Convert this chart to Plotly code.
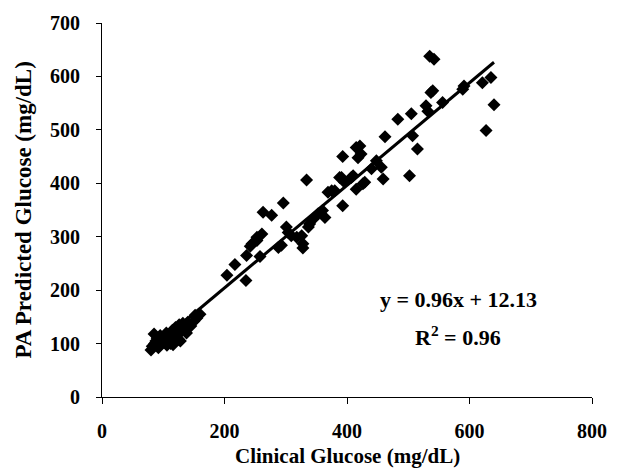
import plotly.graph_objects as go
import numpy as np

clinical = [80, 82, 85, 86, 88, 90, 92, 95, 96, 98, 100, 102, 105, 106, 108, 110, 112, 115, 116, 118,
            120, 122, 125, 126, 128, 130, 132, 135, 138, 140, 145, 150, 155, 160, 112, 118, 125,
            152, 204, 217, 235, 236, 242, 245, 253, 253, 258, 261, 263, 277, 288, 293, 296, 301, 304,
            309, 318, 326, 328, 328, 334, 337, 339, 345, 353, 360, 364, 369, 375, 380, 388, 391, 393,
            393, 396, 407, 410, 415, 415, 418, 421, 423, 426, 429, 440, 448, 456, 459, 462, 483, 502,
            505, 507, 515, 529, 532, 537, 540, 556, 535, 542, 589, 591, 621, 635, 627, 640]
predicted = [88, 95, 118, 100, 105, 110, 92, 115, 100, 108, 103, 112, 120, 97, 110, 105, 115, 125, 98, 108,
             130, 112, 118, 135, 105, 125, 138, 128, 120, 140, 133, 142, 148, 155, 100, 118, 108,
             153, 228, 248, 218, 265, 282, 287, 293, 299, 263, 305, 346, 340, 280, 284, 363, 318, 308,
             302, 299, 302, 287, 279, 406, 318, 324, 333, 343, 349, 336, 383, 386, 386, 411, 411, 358,
             450, 402, 411, 414, 389, 467, 448, 470, 455, 399, 402, 427, 442, 430, 408, 487, 520, 414,
             530, 489, 464, 545, 535, 570, 573, 551, 638, 632, 576, 582, 588, 598, 499, 547]

slope, intercept = 0.96, 12.13
x_tick_vals = [0, 200, 400, 600, 800]
y_tick_vals = [0, 100, 200, 300, 400, 500, 600, 700]

FONT = "Liberation Serif, Times New Roman, serif"

xl = np.array([min(clinical), max(clinical)])
yl = slope * xl + intercept

fig = go.Figure()
fig.add_trace(go.Scatter(x=xl, y=yl, mode="lines", line=dict(color="black", width=3), showlegend=False))
fig.add_trace(go.Scatter(x=clinical, y=predicted, mode="markers",
                         marker=dict(symbol="diamond", color="black", size=10, line=dict(width=0)),
                         showlegend=False))

fig.update_layout(
    width=619, height=470,
    margin=dict(l=102, r=23, t=22, b=73),
    plot_bgcolor="white", paper_bgcolor="white",
    font=dict(family=FONT, color="black", size=20),
    xaxis=dict(range=[0, 800], tickvals=x_tick_vals, showline=True, linecolor="black", linewidth=1,
               ticks="outside", ticklen=6, tickcolor="black", showgrid=False, zeroline=False,
               tickfont=dict(family=FONT, size=20, weight="bold"), ticklabelstandoff=10),
    yaxis=dict(range=[0, 700], tickvals=y_tick_vals, showline=True, linecolor="black", linewidth=1,
               ticks="outside", ticklen=5, tickcolor="black", showgrid=False, zeroline=False,
               tickfont=dict(family=FONT, size=20, weight="bold"), ticklabelstandoff=12),
    annotations=[
        dict(x=582, y=183, xref="x", yref="y", text="<b>y = 0.96x + 12.13</b>", showarrow=False,
             font=dict(family=FONT, size=22)),
        dict(x=582, y=114, xref="x", yref="y", text="<b>R<sup>2</sup> = 0.96</b>", showarrow=False,
             font=dict(family=FONT, size=22)),
        dict(x=0.5, y=-0.158, xref="paper", yref="paper", text="<b>Clinical Glucose (mg/dL)</b>",
             showarrow=False, font=dict(family=FONT, size=21), yanchor="middle"),
        dict(x=-0.162, y=0.5, xref="paper", yref="paper", text="<b>PA Predicted Glucose (mg/dL)</b>",
             showarrow=False, textangle=-90, font=dict(family=FONT, size=23), xanchor="center"),
    ],
)

fig.write_html("out.html")
